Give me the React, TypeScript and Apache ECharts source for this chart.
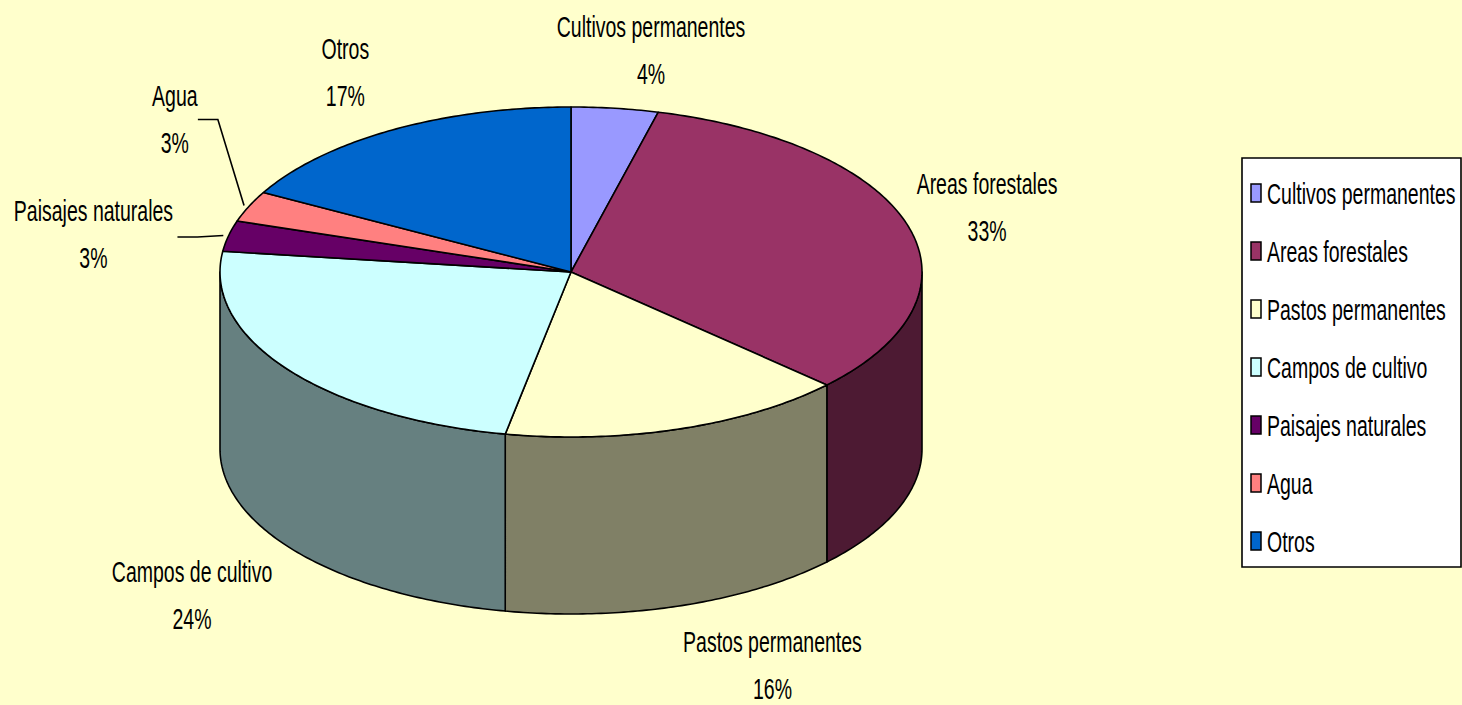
import { useEffect, useRef } from 'react';
import * as echarts from 'echarts';

// ---- data ----
const categories = [
  'Cultivos permanentes',
  'Areas forestales',
  'Pastos permanentes',
  'Campos de cultivo',
  'Paisajes naturales',
  'Agua',
  'Otros',
];
const values = [4, 33, 16, 24, 3, 3, 17];
const colors = ['#9999FF', '#993366', '#FFFFCC', '#CCFFFF', '#660066', '#FF8080', '#0066CC'];

// ---- layout ----
const PIE = { cx: 571, cy: 272, rx: 351, ry: 165, depth: 177 };
const LABEL_OFFSETS: number[][] = [
  [36, -58],
  [79, -19],
  [93, 236],
  [-95, 226],
  [-135, -2],
  [-74, -88],
  [-47, -58],
];
const LEADERS: (number[] | null)[] = [null, null, null, null, [84, 3], [23, 1], null];
const FONT = "'Liberation Sans', Arial, sans-serif";
const FONT_SIZE = 30;
const LINE_GAP = 47;
const TEXT_SCALE_X = 0.65;
const BG = '#FFFFCC';
const LEGEND = { x: 1242, y: 158, w: 219, h: 409, first: 35, gap: 58 };

function shade(hex: string, f: number) {
  const n = parseInt(hex.slice(1), 16);
  const r = Math.round(((n >> 16) & 255) * f);
  const g = Math.round(((n >> 8) & 255) * f);
  const b = Math.round((n & 255) * f);
  return `rgb(${r},${g},${b})`;
}

function pt(deg: number, dy = 0, k = 1) {
  const t = (deg * Math.PI) / 180;
  return [PIE.cx + PIE.rx * k * Math.sin(t), PIE.cy - PIE.ry * k * Math.cos(t) + dy];
}

function arc(a: number, b: number, dy = 0) {
  const n = Math.max(2, Math.ceil((b - a) / 0.75));
  const out: number[][] = [];
  for (let j = 0; j <= n; j++) out.push(pt(a + ((b - a) * j) / n, dy));
  return out;
}

function textEl(text: string, x: number, y: number, align: string) {
  return {
    type: 'text',
    x,
    y,
    scaleX: TEXT_SCALE_X,
    style: {
      text,
      fontFamily: FONT,
      fontSize: FONT_SIZE,
      fill: '#000',
      align,
      verticalAlign: 'middle',
      textAlign: align,
      textVerticalAlign: 'middle',
    },
  };
}

export default function App() {
  const ref = useRef<HTMLDivElement>(null);

  useEffect(() => {
    if (!ref.current) return;
    const chart = echarts.init(ref.current, null, { renderer: 'svg' });
    const total = values.reduce((s, v) => s + v, 0);
    const starts: number[] = [];
    let acc = 0;
    values.forEach((v) => {
      starts.push(acc);
      acc += v;
    });

    const series = categories.map((name, i) => ({
      type: 'custom',
      name,
      coordinateSystem: 'none',
      silent: true,
      data: [[values[i], starts[i]]],
      renderItem: (_params: any, api: any) => {
        const v = api.value(0) as number;
        const s = api.value(1) as number;
        const a = (s / total) * 360;
        const b = ((s + v) / total) * 360;
        const children: any[] = [];
        // side wall (front half only)
        const lo = Math.max(a, 90);
        const hi = Math.min(b, 270);
        if (lo < hi) {
          const top = arc(lo, hi);
          const bottom = arc(lo, hi, PIE.depth).reverse();
          children.push({
            type: 'polygon',
            shape: { points: top.concat(bottom) },
            style: { fill: shade(colors[i], 0.5), stroke: '#000', lineWidth: 1.6, lineJoin: 'round' },
          });
        }
        // top face
        children.push({
          type: 'polygon',
          shape: { points: [[PIE.cx, PIE.cy]].concat(arc(a, b)) },
          style: { fill: colors[i], stroke: '#000', lineWidth: 1.6, lineJoin: 'round' },
        });
        // label
        const mid = (a + b) / 2;
        const anchor = pt(mid);
        const lx = anchor[0] + LABEL_OFFSETS[i][0];
        const ly = anchor[1] + LABEL_OFFSETS[i][1];
        const pct = Math.round((v / total) * 100) + '%';
        children.push(textEl(name, lx, ly - LINE_GAP / 2, 'center'));
        children.push(textEl(pct, lx, ly + LINE_GAP / 2, 'center'));
        const ld = LEADERS[i];
        if (ld) {
          const end = pt(mid, 0, 1.015);
          const sx = lx + ld[0];
          const sy = ly + ld[1];
          children.push({
            type: 'polyline',
            shape: { points: [[sx, sy], [sx + 20, sy], end] },
            style: { stroke: '#000', lineWidth: 1.6, fill: 'none' },
          });
        }
        return { type: 'group', children };
      },
    }));

    const legendChildren: any[] = [
      {
        type: 'rect',
        shape: { x: 0, y: 0, width: LEGEND.w, height: LEGEND.h },
        style: { fill: '#FFFFFF', stroke: '#000', lineWidth: 1.6 },
      },
    ];
    categories.forEach((name, i) => {
      const yc = LEGEND.first + LEGEND.gap * i;
      legendChildren.push({
        type: 'rect',
        shape: { x: 9, y: yc - 9, width: 10, height: 18 },
        style: { fill: colors[i], stroke: '#000', lineWidth: 1.5 },
      });
      legendChildren.push(textEl(name, 25, yc, 'left'));
    });

    chart.setOption({
      animation: false,
      backgroundColor: BG,
      series,
      graphic: [
        {
          type: 'group',
          x: LEGEND.x,
          y: LEGEND.y,
          children: legendChildren,
        },
      ],
    } as any);

    return () => chart.dispose();
  }, []);

  return (
    <div
      ref={ref}
      style={{ position: 'fixed', left: 0, top: 0, width: 1462, height: 705, background: BG }}
    />
  );
}
